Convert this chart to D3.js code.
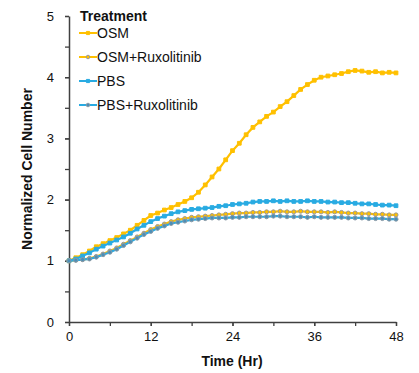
<!DOCTYPE html>
<html><head><meta charset="utf-8">
<script src="https://cdn.jsdelivr.net/npm/d3@7"></script>
<style>body{margin:0;background:#fff}svg{display:block;font-family:"Liberation Sans",Arial,sans-serif}</style>
</head><body><svg id="c" width="419" height="373"></svg>
<script>
const hours = d3.range(0, 49);
const seriesNames = ["OSM", "OSM+Ruxolitinib", "PBS", "PBS+Ruxolitinib"];
const osm = [1.00,1.05,1.10,1.16,1.23,1.28,1.33,1.38,1.44,1.50,1.58,1.66,1.74,1.78,1.83,1.87,1.92,1.97,2.03,2.12,2.24,2.37,2.50,2.65,2.80,2.92,3.06,3.18,3.27,3.36,3.43,3.52,3.60,3.70,3.80,3.88,3.95,4.00,4.02,4.04,4.06,4.09,4.11,4.10,4.08,4.09,4.07,4.08,4.07];
const osmRux = [1.00,1.01,1.02,1.04,1.07,1.11,1.16,1.21,1.27,1.33,1.39,1.45,1.51,1.56,1.60,1.64,1.67,1.69,1.71,1.72,1.73,1.74,1.75,1.76,1.77,1.78,1.78,1.79,1.79,1.80,1.80,1.81,1.80,1.80,1.81,1.80,1.80,1.80,1.79,1.80,1.79,1.78,1.78,1.77,1.77,1.76,1.76,1.75,1.75];
const pbs = [1.00,1.03,1.08,1.13,1.19,1.24,1.29,1.34,1.39,1.45,1.52,1.58,1.64,1.69,1.73,1.77,1.80,1.82,1.84,1.85,1.86,1.87,1.89,1.90,1.92,1.93,1.94,1.96,1.97,1.97,1.98,1.97,1.98,1.97,1.97,1.98,1.97,1.97,1.96,1.96,1.95,1.95,1.94,1.93,1.93,1.92,1.91,1.91,1.90];
const pbsRux = [1.00,1.01,1.02,1.03,1.06,1.10,1.14,1.19,1.25,1.31,1.37,1.43,1.48,1.53,1.57,1.61,1.63,1.65,1.67,1.68,1.69,1.70,1.70,1.70,1.71,1.71,1.72,1.72,1.72,1.72,1.73,1.73,1.72,1.72,1.72,1.71,1.72,1.71,1.71,1.71,1.71,1.70,1.70,1.70,1.69,1.69,1.69,1.68,1.68];
const xTicks = [0, 12, 24, 36, 48];
const yTicks = [0, 1, 2, 3, 4, 5];
const legendTitle = "Treatment";

const styles = [
  {line:"#FFC000", fill:"#FFC000", stroke:"#FFC000", shape:d3.symbolSquare},
  {line:"#FFC000", fill:"#FFC000", stroke:"#9a9a9a", shape:d3.symbolCircle},
  {line:"#29ABE2", fill:"#29ABE2", stroke:"#29ABE2", shape:d3.symbolSquare},
  {line:"#29ABE2", fill:"#4a8fb8", stroke:"#8a9aa6", shape:d3.symbolCircle}
];
const allSeries = [osm, osmRux, pbs, pbsRux];

const svg = d3.select("#c");
const x = d3.scaleLinear().domain([0, 48]).range([69, 396]);
const y = d3.scaleLinear().domain([0, 5]).range([322, 16]);
const axisColor = "#404040";

const g = svg.append("g");
g.append("g").attr("transform","translate(0,322)")
  .call(d3.axisBottom(x).tickValues(d3.range(0,49,6)).tickSize(4).tickFormat(""))
  .call(s=>{s.select(".domain").remove();s.selectAll("line").attr("stroke",axisColor).attr("stroke-width",1.3);});
g.append("g").attr("transform","translate(69,0)")
  .call(d3.axisLeft(y).tickValues(d3.range(0,5.01,0.5)).tickSize(4).tickFormat(""))
  .call(s=>{s.select(".domain").remove();s.selectAll("line").attr("stroke",axisColor).attr("stroke-width",1.3);});

const xa = svg.append("g").attr("transform","translate(0,322)")
  .call(d3.axisBottom(x).tickValues(xTicks).tickFormat(d3.format("d")).tickSize(4).tickSizeOuter(0).tickPadding(6));
const ya = svg.append("g").attr("transform","translate(69,0)")
  .call(d3.axisLeft(y).tickValues(yTicks).tickFormat(d3.format("d")).tickSize(4).tickSizeOuter(0).tickPadding(11));
[xa, ya].forEach(a=>{
  a.select(".domain").attr("stroke",axisColor).attr("stroke-width",1.5);
  a.selectAll("line").attr("stroke",axisColor).attr("stroke-width",1.3);
  a.selectAll("text").attr("font-size",13).attr("fill","#111").attr("font-family","Liberation Sans, Arial, sans-serif");
});

const line = d3.line().x((d,i)=>x(hours[i])).y(d=>y(d));
allSeries.forEach((vals, k)=>{
  const st = styles[k];
  const sg = svg.append("g");
  sg.append("path").datum(vals).attr("d", line).attr("fill","none").attr("stroke",st.line).attr("stroke-width",2.2);
  const sym = d3.symbol().type(st.shape).size(st.shape===d3.symbolSquare?14:13);
  sg.selectAll("path.m").data(vals).join("path").attr("class","m")
    .attr("d", sym).attr("transform",(d,i)=>`translate(${x(hours[i])},${y(d)})`)
    .attr("fill", st.fill).attr("stroke", st.stroke).attr("stroke-width",1);
});

const lg = svg.append("g");
lg.append("text").attr("x",80).attr("y",21).attr("font-size",14).attr("font-weight","bold").attr("fill","#111").text(legendTitle);
seriesNames.forEach((n,k)=>{
  const st = styles[k];
  const yy = 33 + k*24;
  lg.append("line").attr("x1",79).attr("x2",97).attr("y1",yy).attr("y2",yy).attr("stroke",st.line).attr("stroke-width",2);
  lg.append("path").attr("d", d3.symbol().type(st.shape).size(10)).attr("transform",`translate(88,${yy})`)
    .attr("fill",st.fill).attr("stroke",st.stroke).attr("stroke-width",1);
  lg.append("text").attr("x",97).attr("y",yy+5).attr("font-size",14).attr("fill","#111").text(n);
});

svg.append("text").attr("x",232).attr("y",366).attr("text-anchor","middle").attr("font-size",14).attr("font-weight","bold").attr("fill","#111").text("Time (Hr)");
svg.append("text").attr("transform","translate(32,169) rotate(-90)").attr("text-anchor","middle").attr("font-size",14).attr("font-weight","bold").attr("fill","#111").text("Normalized Cell Number");
</script></body></html>
